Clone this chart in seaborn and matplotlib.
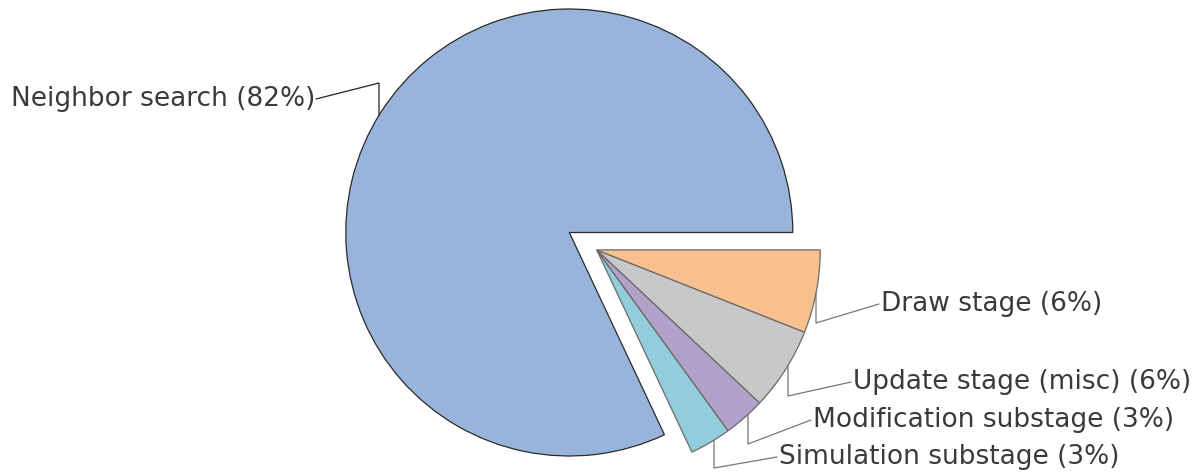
import numpy as np
import matplotlib
matplotlib.use("Agg")
import matplotlib.pyplot as plt
import seaborn as sns

sns.set_theme(style="white")
plt.rcParams['font.family'] = ['DejaVu Sans']

# ---- data ----
categories = ["Neighbor search", "Simulation substage", "Modification substage",
              "Update stage (misc)", "Draw stage"]
shares = [82, 3, 3, 6, 6]
colors = ["#98B4DA", "#92CDDB", "#B2A1C8", "#C8C8C8", "#F9C08F"]
edge_colors = ["#2a2a2a", "#6a6a6a", "#6a6a6a", "#6a6a6a", "#6a6a6a"]

# ---- layout (pixel space, y downward in source image) ----
W, H = 1204, 473
cx, cy, R = 569.3, 232.5, 223.5
explode_px = 32.5
# label text anchor (x, y, ha) and elbow point for leader lines
label_layout = {
    "Neighbor search":       dict(tx=316, ty=99,  ha="right", ex=379, ey=83),
    "Draw stage":            dict(tx=879, ty=304, ha="left",  ex=816, ey=323),
    "Update stage (misc)":   dict(tx=851, ty=382, ha="left",  ex=788, ey=396),
    "Modification substage": dict(tx=811, ty=420, ha="left",  ex=748, ey=444),
    "Simulation substage":   dict(tx=777, ty=457, ha="left",  ex=714, ey=468),
}

fig = plt.figure(figsize=(W / 100, H / 100), dpi=100)
ax = fig.add_axes([0, 0, 1, 1])

center = (cx, H - cy)
wedges, _ = ax.pie(shares, colors=colors, startangle=0, counterclock=True,
                   radius=R, center=center, frame=True,
                   wedgeprops=dict(linewidth=0.9))
for w, ec in zip(wedges, edge_colors):
    w.set_edgecolor(ec)

# explode the small wedges together along the mid-angle of the group
group_start = 360 * shares[0] / sum(shares)
mid = np.deg2rad((group_start + 360) / 2)
dx, dy = explode_px * np.cos(mid), explode_px * np.sin(mid)
for w in wedges[1:]:
    w.set_center((center[0] + dx, center[1] + dy))

ax.set_xlim(0, W)
ax.set_ylim(0, H)
ax.set_aspect("equal")
ax.axis("off")

# labels with Excel-style leader lines
for i, (cat, val) in enumerate(zip(categories, shares)):
    lay = label_layout[cat]
    wc = wedges[i].center
    # attach point: where the vertical through the elbow meets the arc
    ddx = lay["ex"] - wc[0]
    ddy = np.sqrt(max(R ** 2 - ddx ** 2, 0))
    if i == 0:
        ay = wc[1] + ddy
    else:
        ay = wc[1] - ddy
    tx, ty = lay["tx"], H - lay["ty"]
    ex, ey = lay["ex"], H - lay["ey"]
    lc = "#222222" if i == 0 else "#777777"
    ax.plot([tx, ex, ex], [ty, ey, ay], color=lc, lw=0.9, solid_joinstyle="miter")
    ax.text(tx + (2 if lay["ha"] == "left" else -1), ty, f"{cat} ({val}%)",
            ha=lay["ha"], va="center", fontsize=19, color="#3a3a3a")

fig.savefig("out.png", dpi=100, facecolor="white")
